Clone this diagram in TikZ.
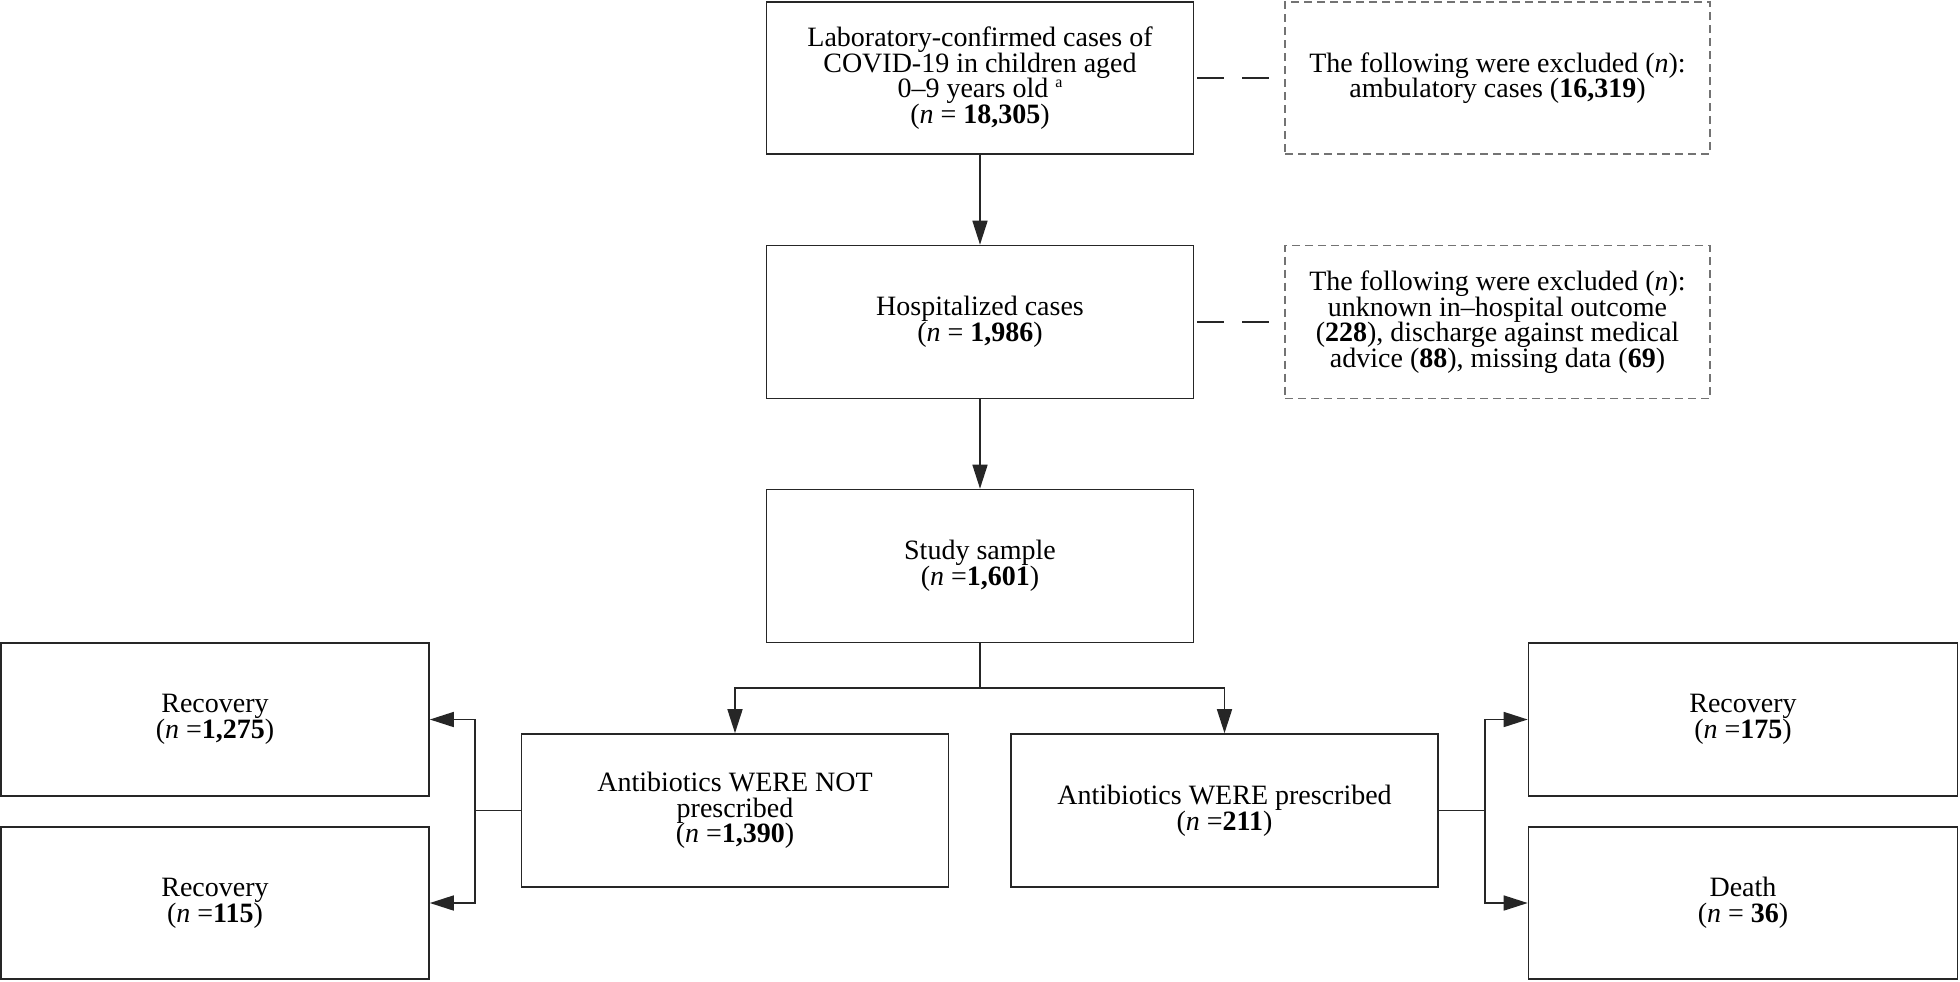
\documentclass[tikz,border=0pt]{standalone}
\usepackage{fontspec}
\setmainfont{Liberation Serif}
\usetikzlibrary{arrows.meta}
\newcommand{\supa}{\raisebox{0.8ex}{\fontsize{8pt}{8pt}\selectfont a}}
\begin{document}
\begin{tikzpicture}[x=0.5pt,y=-0.5pt,
  box/.style={draw=black!85,line width=0.8pt,minimum width=213.5pt,minimum height=76.5pt,
    align=center,inner sep=0pt,font=\fontsize{14pt}{12.8pt}\selectfont},
  exbox/.style={box,draw=black!55,dash pattern=on 4pt off 2.5pt},
  conn/.style={draw=black!85,line width=0.8pt},
  arr/.style={conn,-{Triangle[length=12pt,width=7.5pt]}},
  dashconn/.style={conn,dash pattern=on 13.5pt off 9pt}]
\useasboundingbox (0,0) rectangle (1960,981);

\node[box,minimum height=76pt] (top) at (980,78) {Laboratory-confirmed cases of\\COVID-19 in children aged\\0--9 years old \supa\\(\textit{n} = \textbf{18,305})};
\node[exbox,minimum width=212.5pt,minimum height=76pt] (ex1) at (1497.5,78) {The following were excluded (\textit{n}):\\ambulatory cases (\textbf{16,319})};
\node[box] (hosp) at (980,322) {Hospitalized cases\\(\textit{n} = \textbf{1,986})};
\node[exbox,minimum width=212.5pt] (ex2) at (1497.5,322) {The following were excluded (\textit{n}):\\unknown in--hospital outcome\\(\textbf{228}), discharge against medical\\advice (\textbf{88}), missing data (\textbf{69})};
\node[box] (study) at (980,566) {Study sample\\(\textit{n} =\textbf{1,601})};
\node[box] (not) at (735,810.5) {Antibiotics WERE NOT\\prescribed\\(\textit{n} =\textbf{1,390})};
\node[box] (pres) at (1224.5,810.5) {Antibiotics WERE prescribed\\(\textit{n} =\textbf{211})};
\node[box,minimum width=214pt] (rec1) at (215,719.5) {Recovery\\(\textit{n} =\textbf{1,275})};
\node[box,minimum width=214pt,minimum height=76pt] (rec2) at (215,903) {Recovery\\(\textit{n} =\textbf{115})};
\node[box,minimum width=214.5pt] (rec3) at (1743,719.5) {Recovery\\(\textit{n} =\textbf{175})};
\node[box,minimum width=214.5pt,minimum height=76pt] (death) at (1743,903) {Death\\(\textit{n} = \textbf{36})};

\coordinate (split) at (980,688);
\coordinate (lsplit) at (475,810.5);
\coordinate (rsplit) at (1485,810.5);

\draw[arr] (top) -- (hosp);
\draw[arr] (hosp) -- (study);
\draw[dashconn] ([xshift=1.5pt]top.east) -- (ex1.west);
\draw[dashconn] ([xshift=1.5pt]hosp.east) -- (ex2.west);
\draw[conn] (study.south) -- (split);
\draw[arr] (split) -| (not.north);
\draw[arr] (split) -| (pres.north);
\draw[conn] (not.west) -- (lsplit);
\draw[arr] (lsplit) |- (rec1.east);
\draw[arr] (lsplit) |- (rec2.east);
\draw[conn] (pres.east) -- (rsplit);
\draw[arr] (rsplit) |- (rec3.west);
\draw[arr] (rsplit) |- (death.west);
\end{tikzpicture}
\end{document}
